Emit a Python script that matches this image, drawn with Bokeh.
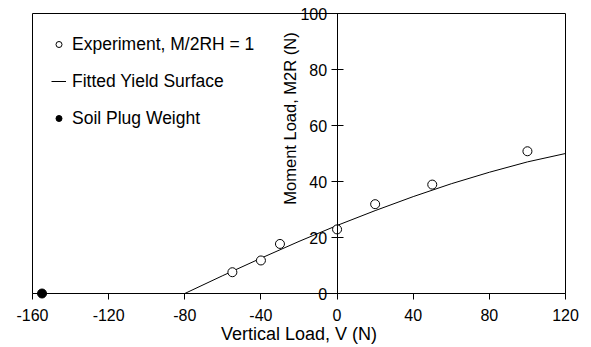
import math
from bokeh.plotting import figure
from bokeh.models import Range1d, Label, Legend, LegendItem, FixedTicker
from bokeh.core.properties import value
from bokeh.embed import file_html
from bokeh.resources import INLINE

# ---- data ----
exp_v = [-55, -40, -30, 0, 20, 50, 100]
exp_m = [7.6, 11.8, 17.7, 22.9, 31.9, 38.9, 50.8]
fit_v = [-80, -60, -40, -20, 0, 20, 40, 60, 80, 100, 120]
fit_m = [0, 6.4, 12.6, 18.6, 24.3, 29.6, 34.6, 39.2, 43.3, 47.0, 50.0]
plug_v = [-155]
plug_m = [0]
x_ticks = [-160, -120, -80, -40, 0, 40, 80, 120]
x_tick_labels = ["-160", "-120", "-80", "-40", "0", "40", "80", "120"]
y_ticks = [0, 20, 40, 60, 80, 100]
y_tick_labels = ["0", "20", "40", "60", "80", "100"]

FONT = "Liberation Sans"

p = figure(width=591, height=347, output_backend="svg", toolbar_location=None,
           x_range=Range1d(-160, 120), y_range=Range1d(0, 100),
           min_border_left=32, min_border_right=26, min_border_top=13,
           min_border_bottom=54)
p.xgrid.visible = False
p.ygrid.visible = False
p.outline_line_color = "black"
p.outline_line_alpha = 1
p.outline_line_width = 1
p.background_fill_color = "white"
p.border_fill_color = "white"

# x axis (bottom)
xa = p.xaxis[0]
xa.ticker = FixedTicker(ticks=x_ticks)
xa.major_label_overrides = dict(zip(x_ticks, x_tick_labels))
xa.major_tick_in = 0
xa.major_tick_out = 6
xa.minor_tick_line_color = None
xa.axis_line_color = "black"
xa.major_tick_line_color = "black"
xa.major_label_text_font = FONT
xa.major_label_text_font_size = "16px"
xa.major_label_text_color = "black"
xa.major_label_standoff = 9
xa.axis_label = "Vertical Load, V (N)"
xa.axis_label_text_font = FONT
xa.axis_label_text_font_size = "18px"
xa.axis_label_text_font_style = "normal"
xa.axis_label_text_color = "black"
xa.axis_label_standoff = 0

# y axis drawn at V = 0 (line and ticks); its labels drawn unclipped as text
ya = p.yaxis[0]
ya.fixed_location = 0
ya.ticker = FixedTicker(ticks=y_ticks)
ya.major_tick_in = 6
ya.major_tick_out = 6
ya.minor_tick_line_color = None
ya.axis_line_color = "black"
ya.major_tick_line_color = "black"
ya.major_label_text_color = None

p.text(x=[0] * len(y_ticks), y=y_ticks, text=y_tick_labels, x_offset=-10,
       text_align="right", text_baseline="middle", text_font=value(FONT),
       text_font_size="16px", text_color="black", level="overlay")

# data
r_fit = p.line(fit_v, fit_m, line_color="black", line_width=1)
r_exp = p.scatter(exp_v, exp_m, marker="circle", size=9, fill_color="white",
                  line_color="black", line_width=1)
r_plug = p.scatter(plug_v, plug_m, marker="circle", size=9, fill_color="black",
                   line_color="black", level="overlay")

ylab = Label(x=-24.5, y=62.5, text="Moment Load, M2R (N)", angle=math.pi / 2,
             text_align="center", text_baseline="middle", text_font=FONT,
             text_font_size="16.5px", text_color="black")
p.add_layout(ylab)

legend = Legend(items=[
    LegendItem(label="Experiment, M/2RH = 1", renderers=[r_exp]),
    LegendItem(label="Fitted Yield Surface", renderers=[r_fit]),
    LegendItem(label="Soil Plug Weight", renderers=[r_plug]),
], location="top_left", margin=19, padding=0, spacing=13,
    glyph_width=15, glyph_height=24, label_height=24, label_standoff=6,
    label_text_font=FONT, label_text_font_size="17.5px", label_text_color="black",
    border_line_alpha=0, background_fill_alpha=0)
p.add_layout(legend)

open("out.html", "w").write(file_html(p, INLINE))
